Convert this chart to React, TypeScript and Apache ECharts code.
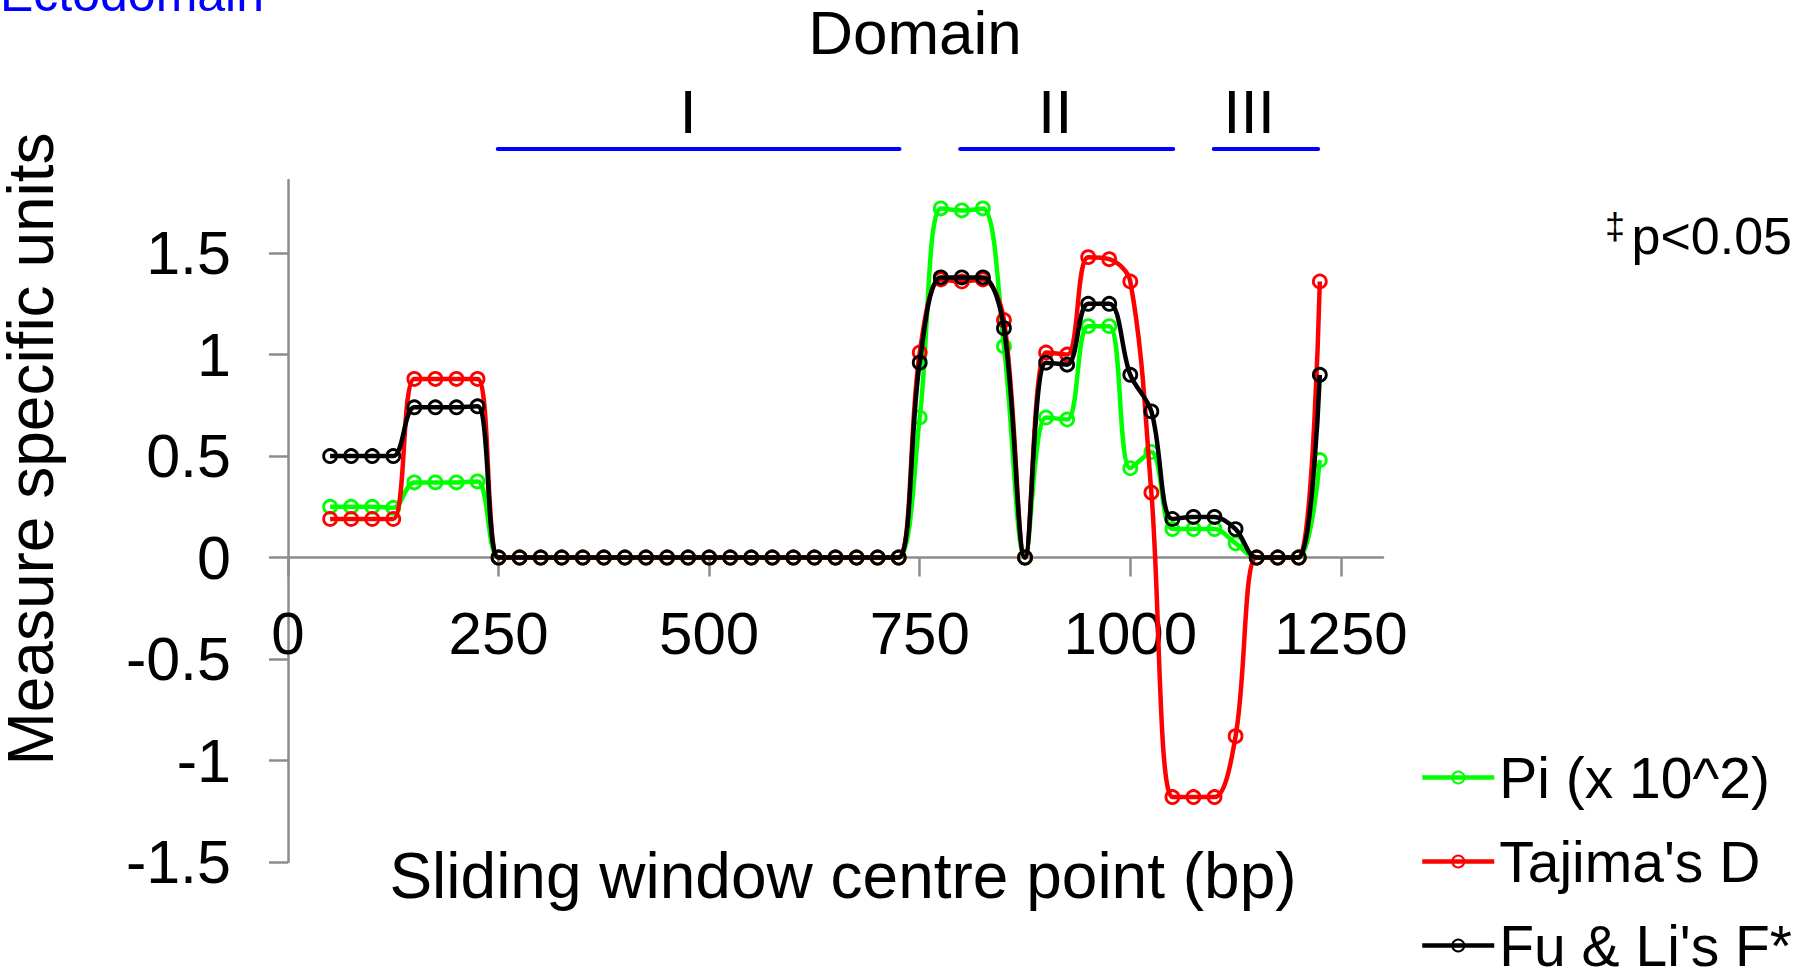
import React, { useEffect, useRef } from "react";
import * as echarts from "echarts";

const windowCentres = [
  50, 75, 100, 125, 150, 175, 200, 225, 250, 275, 300, 325, 350, 375, 400, 425,
  450, 475, 500, 525, 550, 575, 600, 625, 650, 675, 700, 725, 750, 775, 800, 825,
  850, 875, 900, 925, 950, 975, 1000, 1025, 1050, 1075, 1100, 1125, 1150, 1175, 1200, 1225,
];

const piValues = [
  0.25, 0.25, 0.25, 0.245, 0.37, 0.37, 0.37, 0.375,
  0, 0, 0, 0, 0, 0, 0, 0, 0, 0, 0, 0, 0, 0, 0, 0, 0, 0, 0, 0,
  0.69, 1.72, 1.71, 1.72, 1.04, 0, 0.69, 0.68, 1.14, 1.14, 0.44, 0.52,
  0.14, 0.14, 0.14, 0.07, 0, 0, 0, 0.48,
];

const tajimaValues = [
  0.19, 0.19, 0.19, 0.19, 0.88, 0.88, 0.88, 0.88,
  0, 0, 0, 0, 0, 0, 0, 0, 0, 0, 0, 0, 0, 0, 0, 0, 0, 0, 0, 0,
  1.01, 1.37, 1.36, 1.37, 1.17, 0, 1.01, 1.0, 1.48, 1.47, 1.36, 0.32,
  -1.18, -1.18, -1.18, -0.88, 0, 0, 0, 1.36,
];

const fuLiValues = [
  0.5, 0.5, 0.5, 0.5, 0.74, 0.74, 0.74, 0.745,
  0, 0, 0, 0, 0, 0, 0, 0, 0, 0, 0, 0, 0, 0, 0, 0, 0, 0, 0, 0,
  0.96, 1.38, 1.38, 1.38, 1.13, 0, 0.96, 0.95, 1.25, 1.25, 0.9, 0.72,
  0.19, 0.2, 0.2, 0.14, 0, 0, 0, 0.9,
];

const seriesNames = ["Pi (x 10^2)", "Tajima's D", "Fu & Li's F*"];
const seriesColors = ["#00ff00", "#ff0000", "#000000"];

const xTicks = [0, 250, 500, 750, 1000, 1250];
const yTicks = [-1.5, -1, -0.5, 0, 0.5, 1, 1.5];
const X_MIN = 0;
const X_MAX = 1300;
const Y_MIN = -1.5;
const Y_MAX = 1.86;

const domainNames = ["I", "II", "III"];
const domainRanges = [
  [249, 726],
  [798, 1051],
  [1099, 1223],
];
const domainLabelX = [475, 911, 1141];

const FONT = "'Liberation Sans', Arial, sans-serif";
const AXIS_GREY = "#8c8c8c";

const GRID = { left: 288, right: 417, top: 180, bottom: 114 };
const CHART_H = 976;

export default function App() {
  const ref = useRef<HTMLDivElement>(null);

  useEffect(() => {
    if (!ref.current) return;
    const chart = echarts.init(ref.current, undefined, { renderer: "svg" });
    const allValues = [piValues, tajimaValues, fuLiValues];

    const gridH = CHART_H - GRID.top - GRID.bottom;
    const zeroFromBottom = (gridH * (0 - Y_MIN)) / (Y_MAX - Y_MIN);

    chart.setOption({
      animation: false,
      backgroundColor: "#ffffff",
      grid: { ...GRID, containLabel: false },
      xAxis: {
        type: "value",
        min: X_MIN,
        max: X_MAX,
        offset: -zeroFromBottom,
        axisLine: { onZero: false, lineStyle: { color: AXIS_GREY, width: 2.5 } },
        axisTick: { show: true, length: 19, lineStyle: { color: AXIS_GREY, width: 2.5 }, customValues: xTicks },
        axisLabel: {
          customValues: xTicks,
          margin: 46,
          fontSize: 60,
          fontFamily: FONT,
          color: "#000",
          formatter: (v: number) => String(v),
        },
        splitLine: { show: false },
      },
      yAxis: {
        type: "value",
        min: Y_MIN,
        max: Y_MAX,
        axisLine: { show: true, onZero: false, lineStyle: { color: AXIS_GREY, width: 2.5 } },
        axisTick: { show: true, length: 19, lineStyle: { color: AXIS_GREY, width: 2.5 }, customValues: yTicks },
        axisLabel: {
          customValues: yTicks,
          margin: 57,
          fontSize: 61,
          fontFamily: FONT,
          color: "#000",
          formatter: (v: number) => String(v),
        },
        splitLine: { show: false },
      },
      legend: {
        orient: "vertical",
        left: 1420,
        top: 749,
        height: 300,
        padding: 0,
        itemWidth: 72,
        itemHeight: 15,
        itemGap: 27,
        lineStyle: { width: 4.5 },
        textStyle: { fontSize: 57, fontFamily: FONT, color: "#000" },
        data: seriesNames,
      },
      series: seriesNames.map((name, i) => ({
        name,
        type: "line",
        smooth: 0.35,
        symbol: "circle",
        symbolSize: 13,
        showAllSymbol: true,
        color: seriesColors[i],
        lineStyle: { color: seriesColors[i], width: 4.5 },
        itemStyle: { color: "rgba(255,255,255,0)", borderColor: seriesColors[i], borderWidth: 2.8 },
        data: windowCentres.map((x, j) => [x, allValues[i][j]]),
        z: 2 + i,
      })),
    });

    const graphics: any[] = [
      {
        type: "text",
        x: 0,
        y: -6,
        style: { text: "Ectodomain", font: `50px ${FONT}`, fill: "#0000ff", align: "left", verticalAlign: "middle" },
      },
      {
        type: "text",
        x: 915,
        y: 32,
        style: { text: "Domain", font: `62px ${FONT}`, fill: "#000", align: "center", verticalAlign: "middle" },
      },
      {
        type: "text",
        x: 1792,
        y: 236,
        style: { text: "p<0.05", font: `52px ${FONT}`, fill: "#000", align: "right", verticalAlign: "middle" },
      },
      {
        type: "text",
        x: 1605,
        y: 226,
        style: { text: "\u2021", font: `36px ${FONT}`, fill: "#000", align: "left", verticalAlign: "middle" },
      },
      {
        type: "text",
        x: 843,
        y: 876,
        style: {
          text: "Sliding window centre point (bp)",
          font: `64px ${FONT}`,
          fill: "#000",
          align: "center",
          verticalAlign: "middle",
        },
      },
      {
        type: "text",
        x: 31,
        y: 449,
        rotation: Math.PI / 2,
        style: {
          text: "Measure specific units",
          font: `64px ${FONT}`,
          fill: "#000",
          align: "center",
          verticalAlign: "middle",
        },
      },
    ];

    domainRanges.forEach((r, i) => {
      const p0 = chart.convertToPixel({ gridIndex: 0 }, [r[0], 0]) as number[];
      const p1 = chart.convertToPixel({ gridIndex: 0 }, [r[1], 0]) as number[];
      const pl = chart.convertToPixel({ gridIndex: 0 }, [domainLabelX[i], 0]) as number[];
      graphics.push({
        type: "line",
        shape: { x1: p0[0], y1: 149, x2: p1[0], y2: 149 },
        style: { stroke: "#0000ff", lineWidth: 4, lineCap: "round" },
      });
      graphics.push({
        type: "text",
        x: pl[0],
        y: 111,
        style: { text: domainNames[i], font: `62px ${FONT}`, fill: "#000", align: "center", verticalAlign: "middle" },
      });
    });

    chart.setOption({ graphic: graphics });

    return () => chart.dispose();
  }, []);

  return (
    <div
      ref={ref}
      style={{ position: "fixed", left: 0, top: 0, width: 1800, height: 976, background: "#fff" }}
    />
  );
}
